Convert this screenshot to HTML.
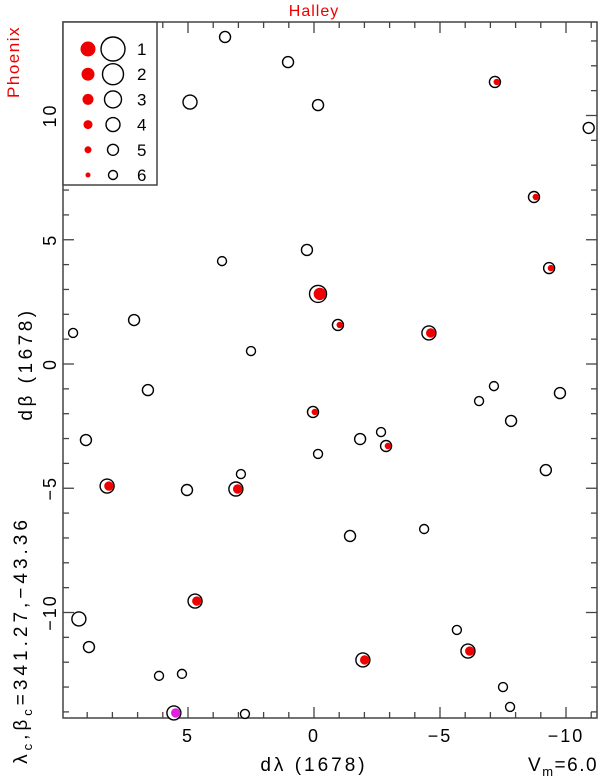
<!DOCTYPE html>
<html><head><meta charset="utf-8"><style>
html,body{margin:0;padding:0;background:#fff;}
svg text{font-family:"Liberation Sans",sans-serif;}
</style></head><body>
<svg id="chart" width="600" height="779" viewBox="0 0 600 779" xmlns="http://www.w3.org/2000/svg">
<text x="314" y="16" font-size="16" fill="#e00" text-anchor="middle" letter-spacing="1">Halley</text>
<text x="0" y="0" font-size="17" fill="#e00" text-anchor="middle" letter-spacing="1.5" transform="translate(19,62) rotate(-90)">Phoenix</text>
<text x="314" y="771" font-size="19" text-anchor="middle" letter-spacing="3">dλ (1678)</text>
<text x="0" y="0" font-size="19" text-anchor="middle" letter-spacing="3.5" transform="translate(32,364) rotate(-90)">dβ  (1678)</text>
<text x="0" y="0" font-size="19" text-anchor="middle" letter-spacing="4" transform="translate(27,640) rotate(-90)">λ<tspan font-size="13" dy="5">c</tspan><tspan dy="-5">,β</tspan><tspan font-size="13" dy="5">c</tspan><tspan dy="-5">=341.27,−43.36</tspan></text>
<text x="528" y="771" font-size="19" letter-spacing="1.5">V<tspan font-size="13" dy="5">m</tspan><tspan dy="-5">=6.0</tspan></text>
<g id="axes"></g>
<g id="marks"></g>
<g id="legend"></g>
</svg>
<script>
const dl = [3.53,1.03,4.92,-0.16,-7.18,-10.9,-8.73,-9.33,0.28,3.65,-0.16,-0.95,-4.56,7.14,9.56,2.5,6.59,-7.14,-9.76,-6.55,-7.82,0.04,9.05,-1.83,-2.86,-2.66,-0.16,2.9,-9.2,8.21,5.04,3.1,-4.37,-1.43,4.72,9.33,8.93,-5.67,-1.94,-6.11,6.15,5.24,-7.5,-7.78,2.74,5.56];
const db = [13.16,12.15,10.54,10.42,11.35,9.5,6.72,3.86,4.59,4.14,2.82,1.57,1.25,1.77,1.25,0.52,-1.05,-0.89,-1.17,-1.49,-2.29,-1.93,-3.06,-3.02,-3.3,-2.74,-3.62,-4.43,-4.27,-4.91,-5.07,-5.03,-6.64,-6.92,-9.54,-10.26,-11.39,-10.7,-11.91,-11.55,-12.55,-12.47,-13.0,-13.8,-14.08,-14.04];
const mag = [5,5,4,5,5,5,5,5,5,6,3,5,4,5,6,6,5,6,5,6,5,5,5,5,5,6,6,6,5,4,5,4,6,5,4,4,5,6,4,4,6,6,6,6,6,4];
const kind = ['o','o','o','o','r','o','r','r','o','o','r','r','r','o','o','o','o','o','o','o','o','r','o','o','r','o','o','o','o','r','o','r','o','o','r','o','o','o','r','r','o','o','o','o','o','m'];
const xTicks = [5,0,-5,-10];
const yTicks = [10,5,0,-5,-10];
const legendMags = [1,2,3,4,5,6];

const L=63,R=597,T=22,B=718;
const X0=314,XS=25.2,Y0=364,YS=24.85;
const sx=v=>X0-v*XS, sy=v=>Y0-v*YS;
const openR=m=>[12,10.5,8.5,7,5.5,4.5][m-1];
const fillR=m=>[7.5,6.5,5.5,4.5,3.5,2.5][m-1];
const NS='http://www.w3.org/2000/svg';
function mk(tag,attrs,parent){const e=document.createElementNS(NS,tag);for(const k in attrs)e.setAttribute(k,attrs[k]);parent.appendChild(e);return e;}
const axes=document.getElementById('axes');
const frame=mk('rect',{x:L,y:T,width:R-L,height:B-T,fill:'none',stroke:'#444','stroke-width':1.5},axes);


for(let v=-11;v<=10;v++){const x=sx(v);if(x<L||x>R)continue;const len=v%5===0?11:6;
 const t1=mk('line',{x1:x,x2:x,y1:B,y2:B-len,stroke:'#444','stroke-width':1.3},axes);
 
 
 const t2=mk('line',{x1:x,x2:x,y1:T,y2:T+len,stroke:'#444','stroke-width':1.3},axes);
 
 }
for(let v=-14;v<=13;v++){const y=sy(v);if(y<T||y>B)continue;const len=v%5===0?11:6;
 const t1=mk('line',{x1:L,x2:L+len,y1:y,y2:y,stroke:'#444','stroke-width':1.3},axes);
 
 
 const t2=mk('line',{x1:R,x2:R-len,y1:y,y2:y,stroke:'#444','stroke-width':1.3},axes);
 
 }
xTicks.forEach(v=>{const t=mk('text',{x:sx(v),y:B+24,'font-size':18,'text-anchor':'middle','letter-spacing':2},axes);t.textContent=v<0?'−'+(-v):String(v);
 
 });
yTicks.forEach(v=>{const t=mk('text',{x:0,y:0,'font-size':18,'text-anchor':'middle','letter-spacing':2,transform:`translate(${L-7},${sy(v)}) rotate(-90)`},axes);t.textContent=v<0?'−'+(-v):String(v);
 
 });
const marks=document.getElementById('marks');
for(let i=0;i<dl.length;i++){const x=sx(dl[i]),y=sy(db[i]);const m=mag[i];const g=mk('g',{},marks);
 
 
 const r=openR(m);
 mk('circle',{cx:x,cy:y,r:r,fill:'#fff',stroke:'#000','stroke-width':1.4},g);
 if(kind[i]!=='o'){mk('circle',{cx:x+1.8,cy:y,r:r-2.3,fill:kind[i]==='m'?'#e020e0':'#e00'},g);}
}
const lg=document.getElementById('legend');
mk('rect',{x:L,y:T,width:94,height:163,fill:'#fff',stroke:'#444','stroke-width':1.5},lg);
legendMags.forEach((m,i)=>{const y=49+i*25.2;
 const a=mk('circle',{cx:88,cy:y,r:fillR(m),fill:'#e00'},lg);
 
 
 const b=mk('circle',{cx:113,cy:y,r:openR(m),fill:'none',stroke:'#000','stroke-width':1.4},lg);
 
 
 const t=mk('text',{x:137,y:y+6,'font-size':17},lg);t.textContent=String(m);
 
 });
</script>
</body></html>
